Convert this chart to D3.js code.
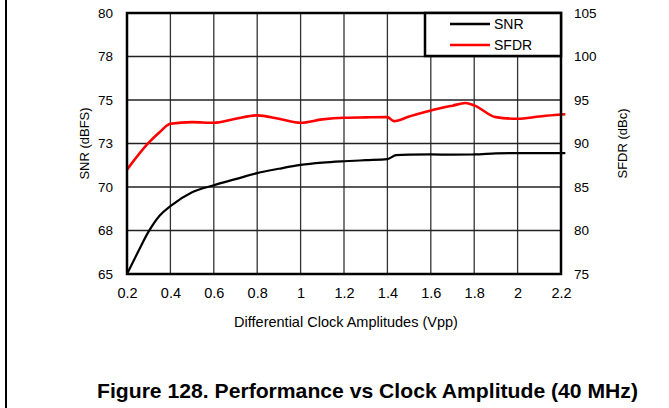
<!DOCTYPE html>
<html><head><meta charset="utf-8">
<script src="https://cdn.jsdelivr.net/npm/d3@7"></script>
<style>body{margin:0;background:#fff}svg{display:block}</style>
</head><body>
<svg id="c" width="669" height="408"></svg>
<script>
const xValues = [0.2,0.25,0.3,0.35,0.4,0.5,0.6,0.7,0.8,0.9,1.0,1.1,1.2,1.3,1.4,1.44,1.5,1.6,1.7,1.8,1.9,2.0,2.1,2.2,2.22];
const snr  = [65.0,66.25,67.45,68.35,68.9,69.7,70.1,70.45,70.8,71.05,71.27,71.4,71.48,71.54,71.6,71.83,71.86,71.87,71.86,71.87,71.93,71.95,71.95,71.95,71.95];
const sfdrX = [0.2,0.3,0.35,0.4,0.5,0.6,0.7,0.8,0.9,1.0,1.1,1.2,1.3,1.4,1.43,1.5,1.6,1.7,1.76,1.8,1.9,2.0,2.1,2.2,2.22];
const sfdr = [87.0,90.1,91.3,92.27,92.46,92.38,92.84,93.23,92.84,92.38,92.77,92.96,93.0,93.03,92.57,93.1,93.8,94.35,94.65,94.38,93.03,92.84,93.1,93.34,93.36];
const xTicks = [0.2,0.4,0.6,0.8,1.0,1.2,1.4,1.6,1.8,2.0,2.2];
const leftTicks = [65,67.5,70,72.5,75,77.5,80];
const leftLabels = ["65","68","70","73","75","78","80"];
const rightTicks = [75,80,85,90,95,100,105];
const seriesNames = ["SNR","SFDR"];
const seriesColors = ["#000000","#ff0000"];

const svg = d3.select("#c");
const L=127,R=561,T=13,B=274;
const x = d3.scaleLinear().domain([0.2,2.2]).range([L,R]);
const yL = d3.scaleLinear().domain([65,80]).range([B,T]);
const yR = d3.scaleLinear().domain([75,105]).range([B,T]);
const font = "'Liberation Sans Narrow','Arial Narrow','Liberation Sans',Arial,sans-serif";
const sans = "'Liberation Sans',Arial,sans-serif";

// page frame
svg.append("line").attr("x1",6).attr("x2",6).attr("y1",0).attr("y2",408).attr("stroke","#000").attr("stroke-width",2);

// grid
const g = svg.append("g");
g.selectAll(".vg").data(xTicks).join("line")
  .attr("x1",d=>x(d)).attr("x2",d=>x(d)).attr("y1",T).attr("y2",B)
  .attr("stroke","#333").attr("stroke-width",1.3);
g.selectAll(".hg").data(leftTicks).join("line")
  .attr("x1",L).attr("x2",R).attr("y1",d=>yL(d)).attr("y2",d=>yL(d))
  .attr("stroke","#222").attr("stroke-width",1.3);

// axes
const axL = d3.axisLeft(yL).tickValues(leftTicks).tickFormat((d,i)=>leftLabels[i]).tickSize(0).tickPadding(14);
const gl = svg.append("g").attr("transform",`translate(${L},0)`).call(axL);
const axR = d3.axisRight(yR).tickValues(rightTicks).tickSize(0).tickPadding(13);
const gr = svg.append("g").attr("transform",`translate(${R},0)`).call(axR);
const axB = d3.axisBottom(x).tickValues(xTicks).tickFormat(d=>d3.format("~g")(d)).tickSize(0).tickPadding(14);
const gb = svg.append("g").attr("transform",`translate(0,${B})`).call(axB);
[gl,gr,gb].forEach(a=>{a.select(".domain").remove();a.selectAll("text").attr("font-family",font).attr("font-size",14.5).attr("fill","#000");});
gr.selectAll("text").attr("font-family",sans).attr("font-size",13.5);
gl.selectAll("text").attr("font-family",sans).attr("font-size",13.5);

// lines
const lineL = d3.line().x((d,i)=>x(xValues[i])).y(d=>yL(d)).curve(d3.curveMonotoneX);
const lineR = d3.line().x((d,i)=>x(sfdrX[i])).y(d=>yR(d)).curve(d3.curveMonotoneX);
svg.append("path").attr("d",lineL(snr)).attr("fill","none").attr("stroke",seriesColors[0]).attr("stroke-width",2.2);
svg.append("path").attr("d",lineR(sfdr)).attr("fill","none").attr("stroke",seriesColors[1]).attr("stroke-width",2.6);

// plot border
svg.append("rect").attr("x",L).attr("y",T).attr("width",R-L).attr("height",B-T)
  .attr("fill","none").attr("stroke","#000").attr("stroke-width",2.5);

// legend
const lg = svg.append("g");
lg.append("rect").attr("x",425).attr("y",T).attr("width",R-425).attr("height",43)
  .attr("fill","#fff").attr("stroke","#000").attr("stroke-width",2.5);
seriesNames.forEach((n,i)=>{
  const yy = 24 + i*21;
  lg.append("line").attr("x1",450).attr("x2",490).attr("y1",yy).attr("y2",yy)
    .attr("stroke",seriesColors[i]).attr("stroke-width",2.5);
  lg.append("text").attr("x",494).attr("y",yy+5).text(n)
    .attr("font-family",sans).attr("font-size",14);
});

// axis titles
svg.append("text").attr("transform",`translate(89,${(T+B)/2}) rotate(-90)`).attr("text-anchor","middle")
  .attr("font-family",sans).attr("font-size",13).text("SNR (dBFS)");
svg.append("text").attr("transform",`translate(627,${(T+B)/2}) rotate(-90)`).attr("text-anchor","middle")
  .attr("font-family",sans).attr("font-size",13).text("SFDR (dBc)");
svg.append("text").attr("x",346).attr("y",327).attr("text-anchor","middle")
  .attr("font-family",font).attr("font-size",14.5).text("Differential Clock Amplitudes (Vpp)");

// caption
svg.append("text").attr("x",97).attr("y",398).attr("font-family",sans)
  .attr("font-weight","bold").attr("font-size",20.5).attr("textLength",541).attr("lengthAdjust","spacingAndGlyphs")
  .text("Figure 128. Performance vs Clock Amplitude (40 MHz)");
</script>
</body></html>
